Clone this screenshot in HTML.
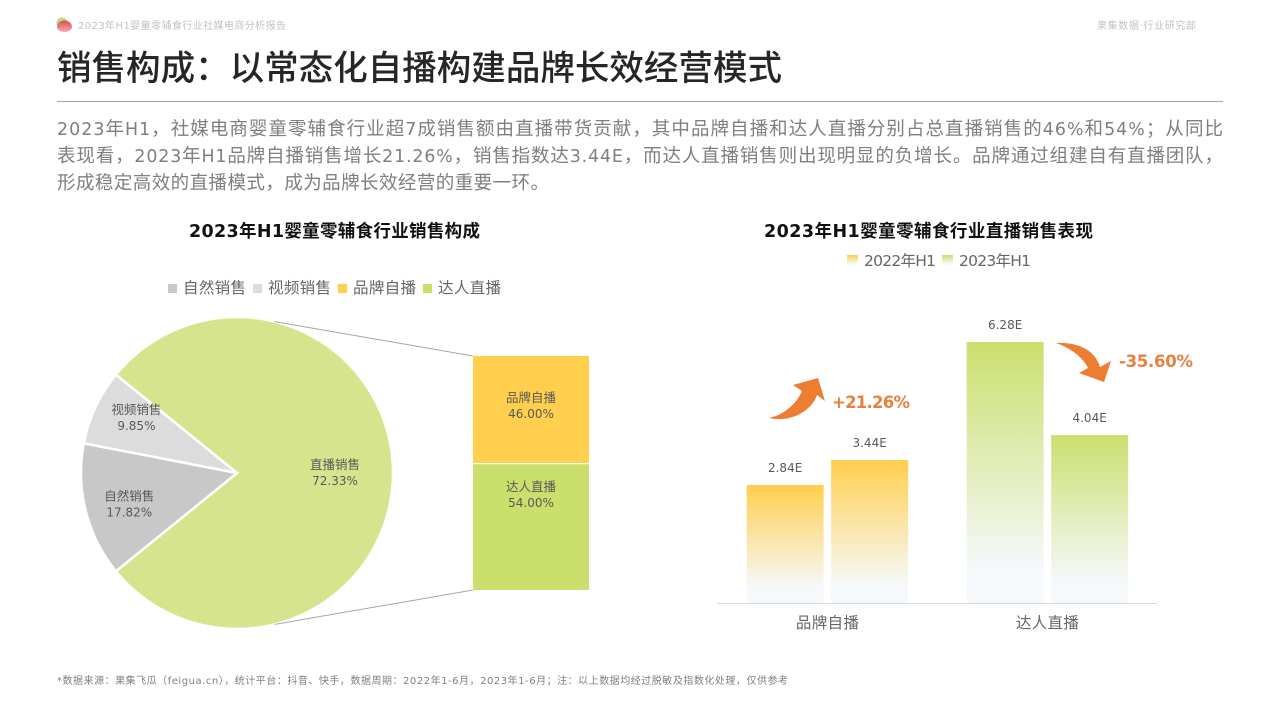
<!DOCTYPE html>
<html lang="zh">
<head>
<meta charset="utf-8">
<title>销售构成</title>
<style>
html,body{margin:0;padding:0;background:#fff;width:1280px;height:720px;overflow:hidden}
svg{display:block}
text{font-family:"DejaVu Sans","Noto Sans CJK SC",sans-serif}
.l{font-size:17.4px}
</style>
</head>
<body>
<svg id="page" width="1280" height="720" viewBox="0 0 1280 720" xmlns="http://www.w3.org/2000/svg">
<defs>
<linearGradient id="gradYellow" x1="0" y1="0" x2="0" y2="1"><stop offset="0" stop-color="#ffcf4d"/><stop offset="0.88" stop-color="#f6f9fc"/><stop offset="1" stop-color="#f6f9fc"/></linearGradient>
<linearGradient id="gradGreen" x1="0" y1="0" x2="0" y2="1"><stop offset="0" stop-color="#cbdf6d"/><stop offset="0.88" stop-color="#f6f9fc"/><stop offset="1" stop-color="#f6f9fc"/></linearGradient>
<linearGradient id="gradLogo" x1="0" y1="0" x2="0" y2="1"><stop offset="0" stop-color="#d9503f"/><stop offset="1" stop-color="#f9a8c0"/></linearGradient>
</defs>
<rect width="1280" height="720" fill="#fff"/>

<g>
<circle cx="62" cy="23" r="5.5" fill="#b9d98c"/>
<path d="M57 27a7.5 6.5 0 0 1 15 0a7.5 5 0 0 1-15 0z" fill="url(#gradLogo)"/>
</g>
<text x="78" y="29" font-size="10" fill="#c2c2c2" textLength="208">2023年H1婴童零辅食行业社媒电商分析报告</text>
<text x="1097" y="29" font-size="10" fill="#c2c2c2" textLength="99">果集数据·行业研究部</text>
<text x="57" y="80" font-size="34.5" font-weight="500" fill="#262626" textLength="725">销售构成：以常态化自播构建品牌长效经营模式</text>
<line x1="57" y1="101.5" x2="1223" y2="101.5" stroke="#a6a6a6" stroke-width="1"/>

<g font-size="18.5" fill="#7f7f7f">
<text x="57" y="135" textLength="1166"><tspan class="l">2023</tspan>年<tspan class="l">H1</tspan>，社媒电商婴童零辅食行业超<tspan class="l">7</tspan>成销售额由直播带货贡献，其中品牌自播和达人直播分别占总直播销售的<tspan class="l">46%</tspan>和<tspan class="l">54%</tspan>；从同比</text>
<text x="57" y="162" textLength="1166">表现看，<tspan class="l">2023</tspan>年<tspan class="l">H1</tspan>品牌自播销售增长<tspan class="l">21.26%</tspan>，销售指数达<tspan class="l">3.44E</tspan>，而达人直播销售则出现明显的负增长。品牌通过组建自有直播团队，</text>
<text x="57" y="189" textLength="492">形成稳定高效的直播模式，成为品牌长效经营的重要一环。</text>
</g>

<text x="189" y="237" font-size="17.5" font-weight="700" fill="#111" textLength="291">2023年H1婴童零辅食行业销售构成</text>
<text x="764" y="237" font-size="17.5" font-weight="700" fill="#111" textLength="329">2023年H1婴童零辅食行业直播销售表现</text>

<g id="pieLegend"></g>
<g id="pieChart"></g>
<g id="stackChart"></g>
<g id="barLegend"></g>
<g id="barChart"></g>

<path d="M769 418C783 415 796 405 802 391L793 385L818 378L825 401L817 395C812 410 792 423 769 418Z" fill="#ed7d31"/>
<text x="832" y="408" font-size="16.5" font-weight="700" fill="#e8803f" textLength="78">+21.26%</text>
<path d="M1056 343C1078 342 1095 350 1100 367L1111 361L1104 382L1079 373L1088 368C1082 356 1070 348 1056 343Z" fill="#ed7d31"/>
<text x="1119" y="367" font-size="16.5" font-weight="700" fill="#e8803f" textLength="74">-35.60%</text>

<text x="57" y="684" font-size="10" fill="#7f7f7f" textLength="731">*数据来源：果集飞瓜（feigua.cn），统计平台：抖音、快手，数据周期：2022年1-6月，2023年1-6月；注：以上数据均经过脱敏及指数化处理，仅供参考</text>
</svg>

<script>
const pieCategories = ['直播销售', '自然销售', '视频销售'];
const pieShares = [78.3, 13.9, 7.8];
const piePrinted = ['72.33%', '17.82%', '9.85%'];
const pieLegendNames = ['自然销售', '视频销售', '品牌自播', '达人直播'];
// ---- stacked breakdown data
const stackCategories = ['品牌自播', '达人直播'];
const stackValues = [46, 54];
const stackPrinted = ['46.00%', '54.00%'];
// ---- bar data
const barCategories = ['品牌自播', '达人直播'];
const seriesNames = ['2022年H1', '2023年H1'];
const values2022 = [2.84, 6.28];
const values2023 = [3.44, 4.04];

const NS = 'http://www.w3.org/2000/svg';
function make(parent, tag, attrs, txt) {
  const el = document.createElementNS(NS, tag);
  for (const k in attrs) el.setAttribute(k, attrs[k]);
  if (txt !== undefined) el.textContent = txt;
  parent.appendChild(el);
  return el;
}

// ---- pie
const pieCx = 237, pieCy = 473, pieR = 156;
const pieColors = ['#d6e48e', '#c8c8c8', '#dcdcdc'];
const pieTotal = pieShares.reduce((a, b) => a + b, 0);
function angleOf(share) { return share / pieTotal * 2 * Math.PI; }
function piePoint(a, r) { return [pieCx + r * Math.cos(a), pieCy + r * Math.sin(a)]; }
const pieGroup = document.getElementById('pieChart');
let pieStart = -angleOf(pieShares[0]) / 2;
pieShares.forEach((share, i) => {
  const sweep = angleOf(share);
  const p0 = piePoint(pieStart, pieR);
  const p1 = piePoint(pieStart + sweep, pieR);
  const path = make(pieGroup, 'path', {
    d: `M${pieCx} ${pieCy}L${p0[0]} ${p0[1]}A${pieR} ${pieR} 0 ${sweep > Math.PI ? 1 : 0} 1 ${p1[0]} ${p1[1]}Z`,
    fill: pieColors[i], stroke: '#fff', 'stroke-width': 2.5
  });
  
  
  const mid = pieStart + sweep / 2;
  const lx = pieCx + (share > 50 ? 98 : 111) * Math.cos(mid);
  const ly = pieCy + 130 * Math.sin(mid);
  const l1 = make(pieGroup, 'text', { x: lx, y: ly - 4, 'text-anchor': 'middle', 'font-size': 12.5, fill: '#595959' }, pieCategories[i]);
  
  
  const l2 = make(pieGroup, 'text', { x: lx, y: ly + 12, 'text-anchor': 'middle', 'font-size': 12, fill: '#595959' }, piePrinted[i]);
  
  
  pieStart += sweep;
});

// ---- stack
const stackX = 473, stackW = 116, stackTop = 356, stackH = 234;
const stackColors = ['#ffcf4d', '#cbdf6d'];
const stackTotal = stackValues.reduce((a, b) => a + b, 0);
function stackScale(v) { return v / stackTotal * stackH; }
const stackGroup = document.getElementById('stackChart');
let stackY = stackTop;
stackValues.forEach((v, i) => {
  const h = stackScale(v);
  const r = make(stackGroup, 'rect', { x: stackX, y: stackY + (i > 0 ? 0.6 : 0), width: stackW, height: h - 0.6, fill: stackColors[i] });
  
  
  const c = stackY + h / 2;
  const t1 = make(stackGroup, 'text', { x: stackX + stackW / 2, y: i === 0 ? c - 8 : c - 36, 'text-anchor': 'middle', 'font-size': 12.5, fill: '#595959' }, stackCategories[i]);
  
  
  const t2 = make(stackGroup, 'text', { x: stackX + stackW / 2, y: i === 0 ? c + 8 : c - 20, 'text-anchor': 'middle', 'font-size': 12, fill: '#595959' }, stackPrinted[i]);
  
  
  stackY += h;
});
// connector lines
const connectAngle = 76 * Math.PI / 180;
const cTop = piePoint(-connectAngle, pieR);
const cBot = piePoint(connectAngle, pieR);
const conn1 = make(stackGroup, 'line', { x1: cTop[0], y1: cTop[1], x2: stackX, y2: stackTop, stroke: '#a6a6a6', 'stroke-width': 1 });


const conn2 = make(stackGroup, 'line', { x1: cBot[0], y1: cBot[1], x2: stackX, y2: stackTop + stackH, stroke: '#a6a6a6', 'stroke-width': 1 });



// ---- pie legend
const pieLegendColors = ['#c8c8c8', '#dcdcdc', '#ffcf4d', '#cbdf6d'];
const pieLegendGroup = document.getElementById('pieLegend');
pieLegendNames.forEach((name, i) => {
  const x = 168 + i * 85;
  const sw = make(pieLegendGroup, 'rect', { x: x, y: 284, width: 9, height: 9, fill: pieLegendColors[i] });
  
  
  const t = make(pieLegendGroup, 'text', { x: x + 15, y: 293, 'font-size': 15.5, fill: '#666', textLength: 63 }, name);
  
  
});

// ---- bar chart
const baseY = 603, unitPx = 41.56, bandStart = 717.4, bandW = 220, barW = 77, barGap = 7.5;
function yOf(v) { return baseY - v * unitPx; }
function bandCenter(i) { return bandStart + bandW * (i + 0.5); }
const barGroup = document.getElementById('barChart');
const seriesValues = [values2022, values2023];
const seriesFill = ['url(#gradYellow)', 'url(#gradGreen)'];
function seriesForBar(catIndex) {
  // first category: yellow, second category: green
  return catIndex === 0 ? seriesFill[0] : seriesFill[1];
}
barCategories.forEach((cat, c) => {
  seriesValues.forEach((vals, s) => {
    const v = vals[c];
    const x = bandCenter(c) + (s === 0 ? -barGap / 2 - barW : barGap / 2);
    const r = make(barGroup, 'rect', { x: x, y: yOf(v), width: barW, height: baseY - yOf(v), fill: seriesForBar(c) });
    
    
    const t = make(barGroup, 'text', { x: x + barW / 2, y: yOf(v) - 13, 'text-anchor': 'middle', 'font-size': 12, fill: '#595959' }, v.toFixed(2) + 'E');
    
    
  });
  const lab = make(barGroup, 'text', { x: bandCenter(c), y: 628, 'text-anchor': 'middle', 'font-size': 15.5, fill: '#666', textLength: 63 }, cat);
  
  
});
const axis = make(barGroup, 'line', { x1: 717, y1: baseY + 0.5, x2: 1157, y2: baseY + 0.5, stroke: '#d9d9d9', 'stroke-width': 1 });



// ---- bar legend
const barLegendGroup = document.getElementById('barLegend');
seriesNames.forEach((name, i) => {
  const x = 847 + i * 95;
  const sw = make(barLegendGroup, 'rect', { x: x, y: 255, width: 11, height: 10, fill: seriesFill[i] });
  
  
  const t = make(barLegendGroup, 'text', { x: x + 17, y: 266, 'font-size': 15.5, fill: '#666', textLength: 72 }, name);
  
  
});
</script>
</body>
</html>
